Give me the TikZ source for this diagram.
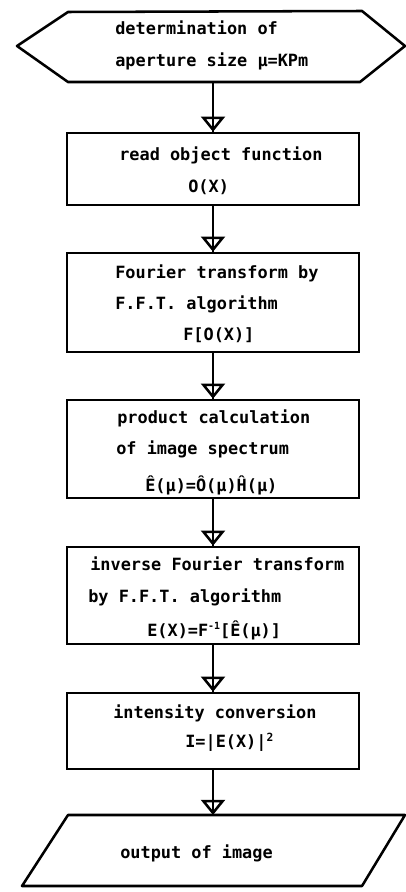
\documentclass[tikz,border=0pt]{standalone}
\usepackage{fontspec}
\setmonofont{DejaVu Sans Mono}
\usetikzlibrary{arrows.meta}
\tikzset{>={Triangle[open,width=6mm,length=3.8mm]}}
\tikzset{
  box/.style={draw, line width=1.8pt, minimum width=7.3cm, inner sep=0pt},
  txt/.style={anchor=base west, inner sep=0pt, font=\ttfamily\bfseries\fontsize{12}{14}\selectfont},
  flow/.style={line width=1.8pt, ->, postaction={draw, -}}
}

\begin{document}
\begin{tikzpicture}[x=0.025cm, y=-0.025cm]

  \useasboundingbox (0,0) rectangle (406,892);

  % start and end shapes
  \draw[line width=1.8pt, line join=round] (17,46) -- (68,12) -- (362,11) -- (405,46) -- (360,82) -- (68,82) -- cycle;
  \draw[line width=1.8pt, line join=round] (68,815) -- (405,815) -- (362,886) -- (22,886) -- cycle;
  \coordinate (start) at (213,82);
  \coordinate (out) at (213,815);

  \node[box, minimum height=1.8cm] (read) at (213,169) {};
  \node[box, minimum height=2.475cm] (fft) at (213,302.5) {};
  \node[box, minimum height=2.45cm] (spec) at (213,449) {};
  \node[box, minimum height=2.425cm] (ifft) at (213,595.5) {};
  \node[box, minimum height=1.9cm] (inten) at (213,731) {};

  \draw[flow] (start) -- (read.north);
  \draw[flow] (read) -- (fft);
  \draw[flow] (fft) -- (spec);
  \draw[flow] (spec) -- (ifft);
  \draw[flow] (ifft) -- (inten);
  \draw[flow] (inten) -- (out);

  \node[txt] (start1) at (115,35) {determination of};
  \node[txt] (start2) at (115,67) {aperture size μ=KPm};

  \node[txt] (read1) at (119,161) {read object function};
  \node[txt] (read2) at (188,193) {O(X)};

  \node[txt] (fft1) at (115,278) {Fourier transform by};
  \node[txt] (fft2) at (115,309) {F.F.T. algorithm};
  \node[txt] (fft3) at (183,340) {F[O(X)]};

  \node[txt] (spec1) at (117,423) {product calculation};
  \node[txt] (spec2) at (116,454) {of image spectrum};
  \node[txt] (spec3) at (145,491) {Ê(μ)=Ô(μ)Ĥ(μ)};

  \node[txt] (ifft1) at (90,570) {inverse Fourier transform};
  \node[txt] (ifft2) at (88,602) {by F.F.T. algorithm};
  \node[txt] (ifft3) at (147,636) {E(X)=F\raisebox{0.7ex}{\fontsize{7}{8}\selectfont-1}[Ê(μ)]};

  \node[txt] (inten1) at (113,718) {intensity conversion};
  \node[txt] (inten2) at (185,747) {I=|E(X)|\raisebox{0.6ex}{\fontsize{8}{9}\selectfont 2}};

  \node[txt] (out1) at (120,858) {output of image};

\end{tikzpicture}
\end{document}
